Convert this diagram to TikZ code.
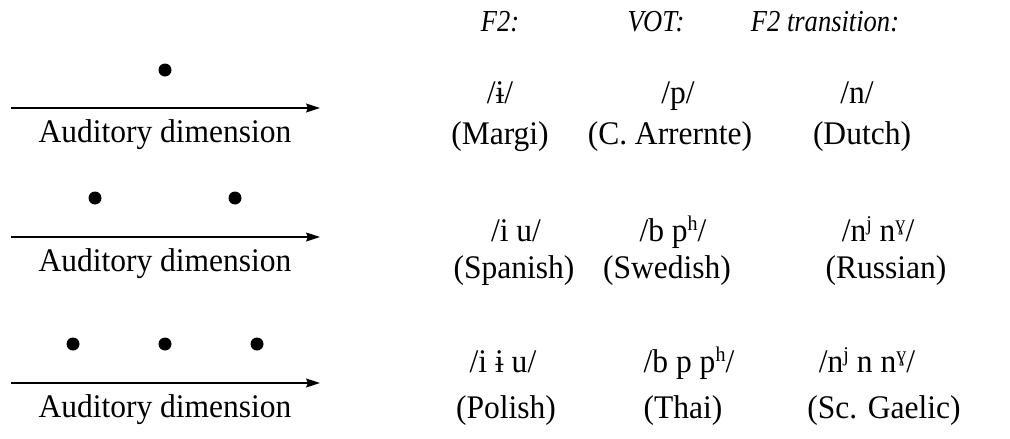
\documentclass[tikz,border=0pt]{standalone}
\usepackage{fontspec}
\setmainfont{Liberation Serif}[FakeStretch=0.955]
\newfontfamily\headfont{Liberation Serif}[FakeStretch=0.87]
\usetikzlibrary{arrows.meta}
\newcommand\sups[1]{\raisebox{0.33em}{\fontsize{21}{21}\selectfont #1}}
\tikzset{
  big/.style={font=\fontsize{33}{40}\selectfont, inner sep=0pt, anchor=base},
  head/.style={font=\headfont\fontsize{30.5}{36}\selectfont\itshape, inner sep=0pt, anchor=base},
  pt/.style={circle, fill=black, inner sep=0pt, minimum size=13pt},
  axis/.style={line width=1.2pt, -{Stealth[length=14pt,width=9pt,inset=2pt]}}
}
\begin{document}
\begin{tikzpicture}[x=1pt,y=-1pt]
\useasboundingbox (0,0) rectangle (1010,439);
% headers
\node[head] (h1) at (500,31) {F2:};
\node[head] (h2) at (656,31) {VOT:};
\node[head] (h3) at (825,31) {F2 transition:};
% row 1
\node[pt] (d11) at (165,70) {};
\coordinate (s1) at (11,108);
\coordinate (e1) at (320,108);
\draw[axis] (s1) -- (e1);
\node[big] (l1) at (165,142) {Auditory dimension};
\node[big] (p11) at (500,103) {/ɨ/};
\node[big] (p12) at (678,103) {/p/};
\node[big] (p13) at (857,103) {/n/};
\node[big] (n11) at (500,144) {(Margi)};
\node[big] (n12) at (670,144) {(C. Arrernte)};
\node[big] (n13) at (862,144) {(Dutch)};
% row 2
\node[pt] (d21) at (95,198) {};
\node[pt] (d22) at (235,198) {};
\coordinate (s2) at (11,237);
\coordinate (e2) at (320,237);
\draw[axis] (s2) -- (e2);
\node[big] (l2) at (165,271) {Auditory dimension};
\node[big] (p21) at (516,241) {/i u/};
\node[big] (p22) at (673,241) {/b p\sups{h}/};
\node[big] (p23) at (878,241) {/n\sups{j} n\sups{ɣ}/};
\node[big] (n21) at (514,278) {(Spanish)};
\node[big] (n22) at (667,278) {(Swedish)};
\node[big] (n23) at (886,278) {(Russian)};
% row 3
\node[pt] (d31) at (73,344) {};
\node[pt] (d32) at (165,344) {};
\node[pt] (d33) at (257,344) {};
\coordinate (s3) at (11,383);
\coordinate (e3) at (320,383);
\draw[axis] (s3) -- (e3);
\node[big] (l3) at (165,417) {Auditory dimension};
\node[big] (p31) at (503,372) {/i ɨ u/};
\node[big] (p32) at (689,372) {/b p p\sups{h}/};
\node[big] (p33) at (867,372) {/n\sups{j} n n\sups{ɣ}/};
\node[big] (n31) at (506,418) {(Polish)};
\node[big] (n32) at (683,418) {(Thai)};
\node[big] (n33) at (884,418) {(Sc. Gaelic)};
\end{tikzpicture}
\end{document}
